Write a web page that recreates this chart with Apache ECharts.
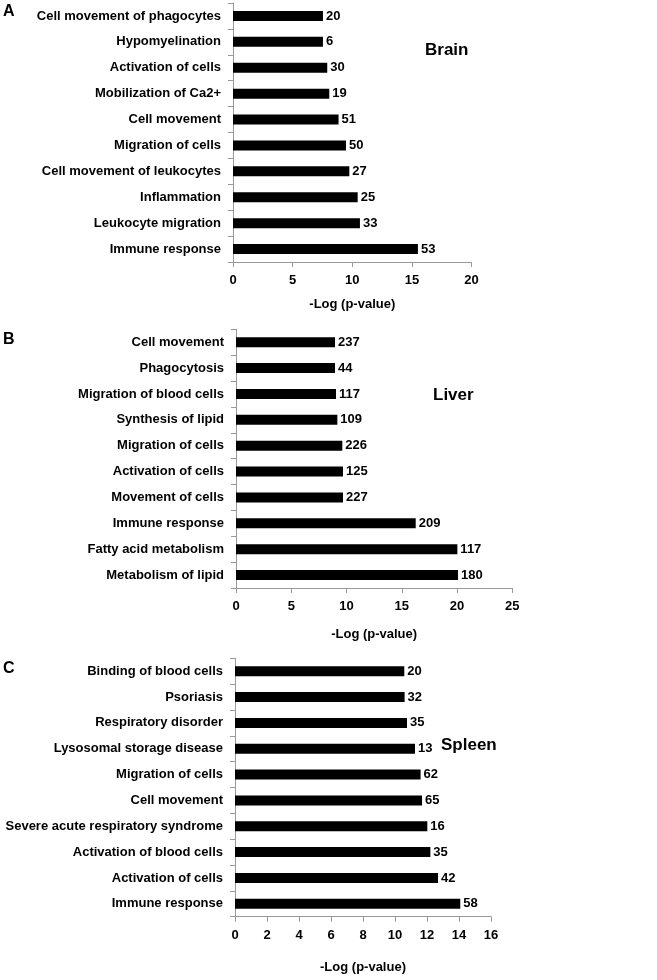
<!DOCTYPE html>
<html>
<head>
<meta charset="utf-8">
<script src="https://cdn.jsdelivr.net/npm/echarts@6/dist/echarts.min.js"></script>
<style>html,body{margin:0;padding:0;background:#fff}#c{width:657px;height:980px}</style>
</head>
<body>
<div id="c"></div>
<script>
// Panel A: Brain
var brainCategories = ['Cell movement of phagocytes','Hypomyelination','Activation of cells','Mobilization of Ca2+','Cell movement','Migration of cells','Cell movement of leukocytes','Inflammation','Leukocyte migration','Immune response'];
var brainValues = [7.54, 7.54, 7.9, 8.07, 8.85, 9.47, 9.75, 10.45, 10.64, 15.5];
var brainCounts = [20, 6, 30, 19, 51, 50, 27, 25, 33, 53];
var brainTicks = [0, 5, 10, 15, 20];

// Panel B: Liver
var liverCategories = ['Cell movement','Phagocytosis','Migration of blood cells','Synthesis of lipid','Migration of cells','Activation of cells','Movement of cells','Immune response','Fatty acid metabolism','Metabolism of lipid'];
var liverValues = [8.96, 8.96, 9.05, 9.17, 9.62, 9.68, 9.68, 16.26, 20.03, 20.09];
var liverCounts = [237, 44, 117, 109, 226, 125, 227, 209, 117, 180];
var liverTicks = [0, 5, 10, 15, 20, 25];

// Panel C: Spleen
var spleenCategories = ['Binding of blood cells','Psoriasis','Respiratory disorder','Lysosomal storage disease','Migration of cells','Cell movement','Severe acute respiratory syndrome','Activation of blood cells','Activation of cells','Immune response'];
var spleenValues = [10.58, 10.6, 10.75, 11.25, 11.6, 11.69, 12.02, 12.21, 12.69, 14.08];
var spleenCounts = [20, 32, 35, 13, 62, 65, 16, 35, 42, 58];
var spleenTicks = [0, 2, 4, 6, 8, 10, 12, 14, 16];

var FONT = 'Arial, "Liberation Sans", sans-serif';
var panels = [
  {cats: brainCategories, vals: brainValues, counts: brainCounts, ticks: brainTicks, grid: {left: 233, top: 3, width: 238.6, height: 259}, nameGap: 36},
  {cats: liverCategories, vals: liverValues, counts: liverCounts, ticks: liverTicks, grid: {left: 236, top: 329.3, width: 276.3, height: 258.7}, nameGap: 40},
  {cats: spleenCategories, vals: spleenValues, counts: spleenCounts, ticks: spleenTicks, grid: {left: 235, top: 658.3, width: 256, height: 258.4}, nameGap: 44}
];

var grids = [], xAxes = [], yAxes = [], series = [];
panels.forEach(function (p, i) {
  grids.push({left: p.grid.left, top: p.grid.top, width: p.grid.width, height: p.grid.height, containLabel: false});
  var tks = p.ticks;
  xAxes.push({
    type: 'value', gridIndex: i, min: tks[0], max: tks[tks.length - 1], interval: tks[1] - tks[0],
    name: '-Log (p-value)', nameLocation: 'middle', nameGap: p.nameGap,
    nameTextStyle: {fontFamily: FONT, fontWeight: 'bold', fontSize: 13, color: '#000'},
    axisLine: {show: true, lineStyle: {color: '#999', width: 1}},
    axisTick: {show: true, length: 5, lineStyle: {color: '#999'}},
    axisLabel: {fontFamily: FONT, fontWeight: 'bold', fontSize: 13, color: '#000', margin: 12},
    splitLine: {show: false}
  });
  yAxes.push({
    type: 'category', gridIndex: i, data: p.cats, inverse: true,
    axisLine: {show: true, lineStyle: {color: '#999', width: 1}},
    axisTick: {show: true, length: 5, lineStyle: {color: '#999'}},
    axisLabel: {fontFamily: FONT, fontWeight: 'bold', fontSize: 13, color: '#000', margin: 12}
  });
  series.push({
    type: 'bar', xAxisIndex: i, yAxisIndex: i, barWidth: 10,
    itemStyle: {color: '#000'},
    data: p.vals.map(function (v, k) { return {value: v, count: p.counts[k]}; }),
    label: {
      show: true, position: 'right', distance: 3,
      fontFamily: FONT, fontWeight: 'bold', fontSize: 13, color: '#000',
      formatter: function (params) { return String(params.data.count); }
    },
    animation: false
  });
});

var chart = echarts.init(document.getElementById('c'), null, {renderer: 'canvas'});
chart.setOption({
  backgroundColor: '#fff',
  animation: false,
  title: [
    {text: 'A', left: 3, top: 4, textStyle: {fontFamily: FONT, fontWeight: 'bold', fontSize: 16, color: '#000'}, padding: 0},
    {text: 'B', left: 3, top: 332, textStyle: {fontFamily: FONT, fontWeight: 'bold', fontSize: 16, color: '#000'}, padding: 0},
    {text: 'C', left: 3, top: 661, textStyle: {fontFamily: FONT, fontWeight: 'bold', fontSize: 16, color: '#000'}, padding: 0},
    {text: 'Brain', left: 425, top: 42, textStyle: {fontFamily: FONT, fontWeight: 'bold', fontSize: 17, color: '#000'}, padding: 0},
    {text: 'Liver', left: 433, top: 387, textStyle: {fontFamily: FONT, fontWeight: 'bold', fontSize: 17, color: '#000'}, padding: 0},
    {text: 'Spleen', left: 441, top: 737, textStyle: {fontFamily: FONT, fontWeight: 'bold', fontSize: 17, color: '#000'}, padding: 0}
  ],
  grid: grids,
  xAxis: xAxes,
  yAxis: yAxes,
  series: series
});
</script>
</body>
</html>
